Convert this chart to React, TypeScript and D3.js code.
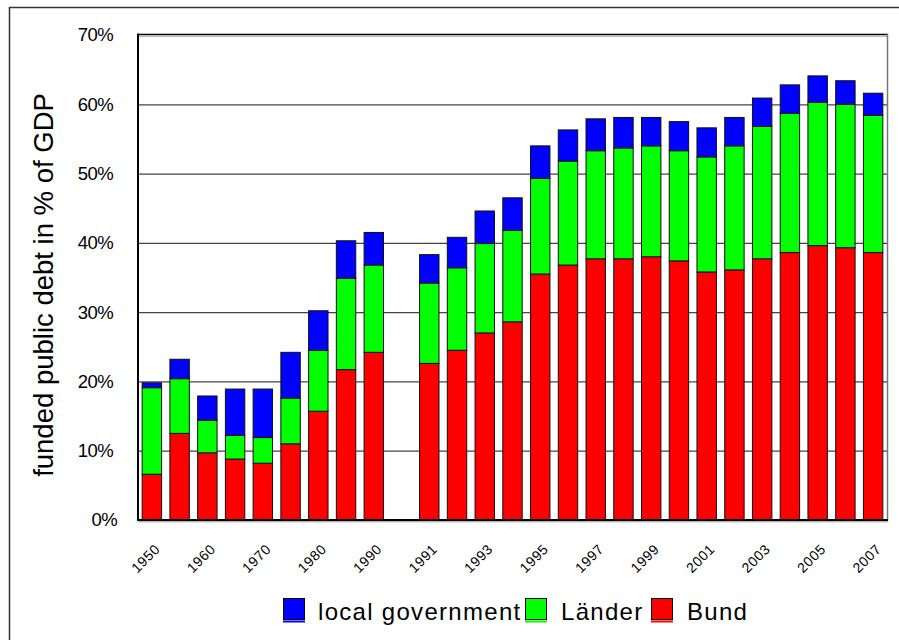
import React from "react";
import * as d3 from "d3";

const categories = ["1950","1955","1960","1965","1970","1975","1980","1985","1990","gap","1991","1992","1993","1994","1995","1996","1997","1998","1999","2000","2001","2002","2003","2004","2005","2006","2007"];
const bund = [6.6,12.5,9.7,8.8,8.2,11.0,15.7,21.7,24.2,0,22.6,24.5,27.0,28.6,35.5,36.8,37.7,37.7,38.0,37.4,35.8,36.1,37.7,38.6,39.6,39.3,38.6];
const laender = [12.5,7.9,4.7,3.4,3.7,6.6,8.8,13.2,12.6,0,11.6,11.9,12.9,13.2,13.8,15.0,15.6,16.0,16.0,15.9,16.6,17.9,19.1,20.1,20.7,20.7,19.8];
const local = [0.7,2.8,3.5,6.7,7.0,6.6,5.7,5.4,4.7,0,4.1,4.4,4.7,4.7,4.7,4.5,4.6,4.4,4.1,4.2,4.2,4.1,4.1,4.1,3.8,3.4,3.2];
const tickLabels = ["1950","1960","1970","1980","1990","1991","1993","1995","1997","1999","2001","2003","2005","2007"];
const yTicks = [0,10,20,30,40,50,60,70];
const seriesKeys = ["bund","laender","local"];
const seriesColors: Record<string,string> = { bund: "#FF0000", laender: "#00FF00", local: "#0000FF" };
const legendItems = [
  { key: "local", label: "local government" },
  { key: "laender", label: "Länder" },
  { key: "bund", label: "Bund" },
];

export default function App() {
  const left = 138, right = 887, top = 35, bottom = 520;
  const x = d3.scaleBand<string>().domain(categories).range([left, right]).paddingInner(0.3).paddingOuter(0.15);
  const y = d3.scaleLinear().domain([0, 70]).range([bottom, top]);
  const rows = categories.map((c, i) => ({ cat: c, bund: bund[i], laender: laender[i], local: local[i] }));
  const stacked = d3.stack<any>().keys(seriesKeys)(rows);
  const font = "'Liberation Sans', Arial, sans-serif";

  const legendX = [283, 525, 651];
  const legendTextX = [318, 561, 687];

  return (
    <svg width={899} height={640} style={{ position: "absolute", left: 0, top: 0, background: "#fff" }}>
      <rect x={9.5} y={7.5} width={900} height={650} fill="#fff" stroke="#333" strokeWidth={1.5} />
      {yTicks.filter(t => t > 0 && t < 70).map(t => (
        <line key={t} x1={left} x2={right} y1={y(t) + 0.5} y2={y(t) + 0.5} stroke="#444" strokeWidth={1.2} />
      ))}
      <line x1={left} x2={right + 1} y1={top - 0.5} y2={top - 0.5} stroke="#000" strokeWidth={1.5} />
      <line x1={left} x2={right + 1} y1={top + 1.5} y2={top + 1.5} stroke="#bbb" strokeWidth={1} />
      <line x1={right + 0.5} x2={right + 0.5} y1={top - 1} y2={bottom} stroke="#777" strokeWidth={1.5} />
      {stacked.map(s => (
        <g key={s.key}>
          {s.map((d, i) => d[1] - d[0] > 0 ? (
            <rect key={i} x={x(categories[i])!} width={x.bandwidth()} y={y(d[1])} height={y(d[0]) - y(d[1])}
              fill={seriesColors[s.key]} stroke="#111" strokeWidth={1} />
          ) : null)}
        </g>
      ))}
      <line x1={left} x2={left} y1={top - 1.5} y2={bottom + 1} stroke="#000" strokeWidth={2} />
      <line x1={left - 1} x2={right + 1} y1={bottom} y2={bottom} stroke="#000" strokeWidth={2} />
      <line x1={left} x2={right + 1.5} y1={bottom + 1.8} y2={bottom + 1.8} stroke="#999" strokeWidth={1} />
      {yTicks.map(t => (
        <text key={t} x={t === 0 ? 117 : 113} y={y(t)} dy="0.35em" textAnchor="end" fontFamily={font}
          fontSize={18.5} letterSpacing={-0.6} fill="#000">{t}%</text>
      ))}
      {categories.map(c => tickLabels.includes(c) ? (
        <text key={c} transform={`translate(${x(c)! + x.bandwidth() / 2 + 9},${550}) rotate(-45)`}
          textAnchor="end" fontFamily={font} fontSize={14} letterSpacing={0.6} fill="#000">{c}</text>
      ) : null)}
      <text transform={`translate(53,${285}) rotate(-90)`} textAnchor="middle" fontFamily={font} fontSize={27.5} fill="#000">
        funded public debt in % of GDP
      </text>
      {legendItems.map((it, i) => (
        <g key={it.key}>
          <line x1={legendX[i]} x2={legendX[i] + 22} y1={621.5} y2={621.5} stroke={seriesColors[it.key]} strokeWidth={2} />
          <rect x={legendX[i] + 0.5} y={598.5} width={21} height={21} fill={seriesColors[it.key]} stroke="#000" strokeWidth={1} />
          <text x={legendTextX[i]} y={620} fontFamily={font} fontSize={24} letterSpacing={1.3} fill="#000">{it.label}</text>
        </g>
      ))}
    </svg>
  );
}
